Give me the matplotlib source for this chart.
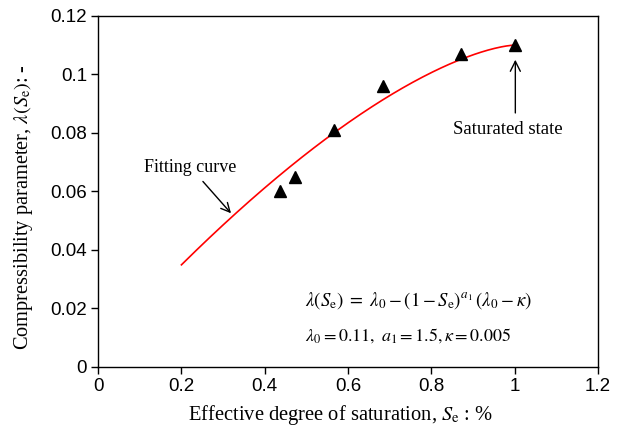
import numpy as np
import matplotlib.pyplot as plt
from matplotlib.ticker import FuncFormatter

plt.rcParams["mathtext.fontset"] = "stix"

# measured points
se_meas = [0.437, 0.473, 0.566, 0.683, 0.872, 1.0]
lam_meas = [0.060, 0.065, 0.081, 0.096, 0.107, 0.110]

# fitting parameters
lam0 = 0.11
a1 = 1.5
kappa = 0.005
se_fit = np.linspace(0.2, 1.0, 200)
lam_fit = lam0 - (1 - se_fit) ** a1 * (lam0 - kappa)

xticks = [0, 0.2, 0.4, 0.6, 0.8, 1.0, 1.2]
yticks = [0, 0.02, 0.04, 0.06, 0.08, 0.1, 0.12]

fig = plt.figure(figsize=(6.21, 4.29), dpi=100)
ax = fig.add_axes([0.158, 0.145, 0.805, 0.818])

ax.plot(se_fit, lam_fit, color="red", lw=1.2)
ax.plot(se_meas, lam_meas, "^", color="black", ms=8, ls="none")

ax.set_xlim(0, 1.2)
ax.set_ylim(0, 0.12)
ax.set_xticks(xticks)
ax.set_yticks(yticks)
fmt = FuncFormatter(lambda v, p: f"{v:g}")
ax.xaxis.set_major_formatter(fmt)
ax.yaxis.set_major_formatter(fmt)
ax.tick_params(direction="out", length=5, width=1, labelsize=13.5, pad=3)
for lab in ax.get_xticklabels() + ax.get_yticklabels():
    lab.set_family("Liberation Sans")
for s in ax.spines.values():
    s.set_linewidth(1)

serif = "Liberation Serif"
ax.set_xlabel(r"Effective degree of saturation, $S_{\rm e}$ : %", family=serif, fontsize=14.8)
ax.set_ylabel(r"Compressibility parameter, $\lambda(S_{\rm e})$: -", family=serif, fontsize=14.7)
ax.xaxis.set_label_coords(0.484, -0.102)
ax.yaxis.set_label_coords(-0.127, 0.455)

ax.annotate("Fitting curve", xy=(0.319, 0.0525), xytext=(0.221, 0.0683),
            ha="center", va="center", family=serif, fontsize=13,
            arrowprops=dict(arrowstyle="->", color="black", lw=1,
                            shrinkA=3, shrinkB=0, mutation_scale=16))
ax.annotate("", xy=(1.0015, 0.105), xytext=(1.0015, 0.0868),
            arrowprops=dict(arrowstyle="->", color="black", lw=1,
                            shrinkA=0, shrinkB=0, mutation_scale=18))
ax.text(0.984, 0.081, "Saturated state", ha="center", va="center", family=serif, fontsize=13.5)

ax.text(0.497, 0.0228, r"$\lambda(S_{\rm e})\ =\ \lambda_0 - (1 - S_{\rm e})^{a_1}\,(\lambda_0 - \kappa)$",
        ha="left", va="center", fontsize=13.5)
ax.text(0.497, 0.0108, r"$\lambda_0 = 0.11,\ a_1 = 1.5, \kappa = 0.005$",
        ha="left", va="center", fontsize=13)

fig.savefig("out.png", dpi=100)
